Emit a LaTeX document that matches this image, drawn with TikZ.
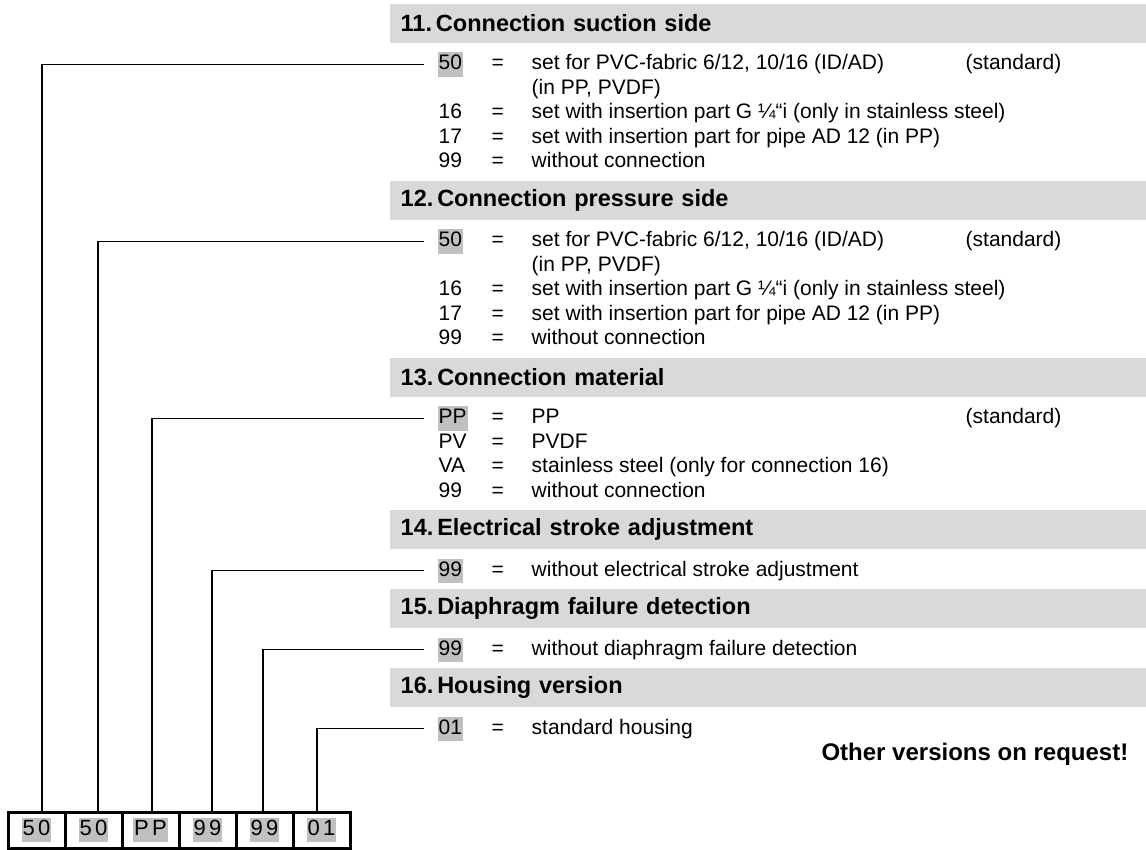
\documentclass[tikz,border=0pt]{standalone}
\usepackage{fontspec}
\setmainfont{Liberation Sans}
\newfontfamily\cellfont[LetterSpace=16]{Liberation Sans}
\definecolor{headgray}{HTML}{D9D9D9}
\definecolor{codegray}{HTML}{C0C0C0}

\tikzset{every picture/.style={line width=1.4pt}}
\tikzset{
  head/.style={fill=headgray, anchor=north west, minimum width=757pt, minimum height=39pt,
    inner xsep=11pt, inner ysep=0pt, text width=735pt, align=left,
    font=\fontsize{23.5}{28}\selectfont\bfseries},
  txt/.style={anchor=base west, inner sep=0pt, font=\fontsize{21}{25}\selectfont},
  code/.style={txt, fill=codegray, inner xsep=1pt, inner ysep=2pt, text height=15.5pt, text depth=5pt},
  cell/.style={draw, line width=3pt, minimum width=57pt, minimum height=36pt, inner sep=0pt},
  cellcode/.style={fill=codegray, inner xsep=1pt, inner ysep=2pt, text height=15.5pt, text depth=5pt,
    font=\fontsize{22}{26}\cellfont},
  leader/.style={line width=1.4pt},
}

\begin{document}
\begin{tikzpicture}[x=1pt,y=1pt,yscale=-1,xscale=1]
\useasboundingbox (0,0) rectangle (1146,849);

% Headers
\node [head] (h11) at (389,3) {11.\,Connection suction side};
\node [head] (h12) at (389,180) {12.\,Connection pressure side};
\node [head] (h13) at (389,357) {13.\,Connection material};
\node [head] (h14) at (389,509.5) {14.\,Electrical stroke adjustment};
\node [head] (h15) at (389,588.5) {15.\,Diaphragm failure detection};
\node [head] (h16) at (389,667.5) {16.\,Housing version};

% 11. Connection suction side
\node [code] (c11a) at (437,69.5) {50};
\node [txt] (q11a) at (491,69.5) {=};
\node [txt] (d11a) at (531,69.5) {set for PVC-fabric 6/12, 10/16 (ID/AD)};
\node [txt] (s11a) at (965,69.5) {(standard)};
\node [txt] (d11b) at (531,94) {(in PP, PVDF)};
\node [txt] (c11c) at (438,118.5) {16};
\node [txt] (q11c) at (491,118.5) {=};
\node [txt] (d11c) at (531,118.5) {set with insertion part G ¼“i (only in stainless steel)};
\node [txt] (c11d) at (438,143) {17};
\node [txt] (q11d) at (491,143) {=};
\node [txt] (d11d) at (531,143) {set with insertion part for pipe AD 12 (in PP)};
\node [txt] (c11e) at (438,167.5) {99};
\node [txt] (q11e) at (491,167.5) {=};
\node [txt] (d11e) at (531,167.5) {without connection};

% 12. Connection pressure side
\node [code] (c12a) at (437,246.5) {50};
\node [txt] (q12a) at (491,246.5) {=};
\node [txt] (d12a) at (531,246.5) {set for PVC-fabric 6/12, 10/16 (ID/AD)};
\node [txt] (s12a) at (965,246.5) {(standard)};
\node [txt] (d12b) at (531,271) {(in PP, PVDF)};
\node [txt] (c12c) at (438,295.5) {16};
\node [txt] (q12c) at (491,295.5) {=};
\node [txt] (d12c) at (531,295.5) {set with insertion part G ¼“i (only in stainless steel)};
\node [txt] (c12d) at (438,320) {17};
\node [txt] (q12d) at (491,320) {=};
\node [txt] (d12d) at (531,320) {set with insertion part for pipe AD 12 (in PP)};
\node [txt] (c12e) at (438,344.5) {99};
\node [txt] (q12e) at (491,344.5) {=};
\node [txt] (d12e) at (531,344.5) {without connection};

% 13. Connection material
\node [code] (c13a) at (437,423.5) {PP};
\node [txt] (q13a) at (491,423.5) {=};
\node [txt] (d13a) at (531,423.5) {PP};
\node [txt] (s13a) at (965,423.5) {(standard)};
\node [txt] (c13b) at (438,448) {PV};
\node [txt] (q13b) at (491,448) {=};
\node [txt] (d13b) at (531,448) {PVDF};
\node [txt] (c13c) at (438,472.5) {VA};
\node [txt] (q13c) at (491,472.5) {=};
\node [txt] (d13c) at (531,472.5) {stainless steel (only for connection 16)};
\node [txt] (c13d) at (438,497) {99};
\node [txt] (q13d) at (491,497) {=};
\node [txt] (d13d) at (531,497) {without connection};

% 14. - 16.
\node [code] (c14a) at (437,576) {99};
\node [txt] (q14a) at (491,576) {=};
\node [txt] (d14a) at (531,576) {without electrical stroke adjustment};
\node [code] (c15a) at (437,655) {99};
\node [txt] (q15a) at (491,655) {=};
\node [txt] (d15a) at (531,655) {without diaphragm failure detection};
\node [code] (c16a) at (437,734) {01};
\node [txt] (q16a) at (491,734) {=};
\node [txt] (d16a) at (531,734) {standard housing};

% Text Node
\node [anchor=base east, inner sep=0pt, font=\fontsize{24}{28}\selectfont\bfseries] (other) at (1129,760) {Other versions on request!};

% Order code
\node [cell] (b1) at (36.5,830) {};
\node [cell] (b2) at (93.5,830) {};
\node [cell] (b3) at (150.5,830) {};
\node [cell] (b4) at (207.5,830) {};
\node [cell] (b5) at (264.5,830) {};
\node [cell] (b6) at (321.5,830) {};
\node [cellcode] (k1) at (b1) {50};
\node [cellcode] (k2) at (b2) {50};
\node [cellcode] (k3) at (b3) {PP};
\node [cellcode] (k4) at (b4) {99};
\node [cellcode] (k5) at (b5) {99};
\node [cellcode] (k6) at (b6) {01};

% Leaders
\draw [leader] ([xshift=5.5pt]b1.north) |- ([xshift=-13pt]c11a.west);
\draw [leader] ([xshift=4.5pt]b2.north) |- ([xshift=-13pt]c12a.west);
\draw [leader] ([xshift=1.5pt]b3.north) |- ([xshift=-13pt]c13a.west);
\draw [leader] ([xshift=4.5pt]b4.north) |- ([xshift=-13pt]c14a.west);
\draw [leader] ([xshift=-1.5pt]b5.north) |- ([xshift=-13pt]c15a.west);
\draw [leader] ([xshift=-4.5pt]b6.north) |- ([xshift=-13pt]c16a.west);

\end{tikzpicture}
\end{document}
